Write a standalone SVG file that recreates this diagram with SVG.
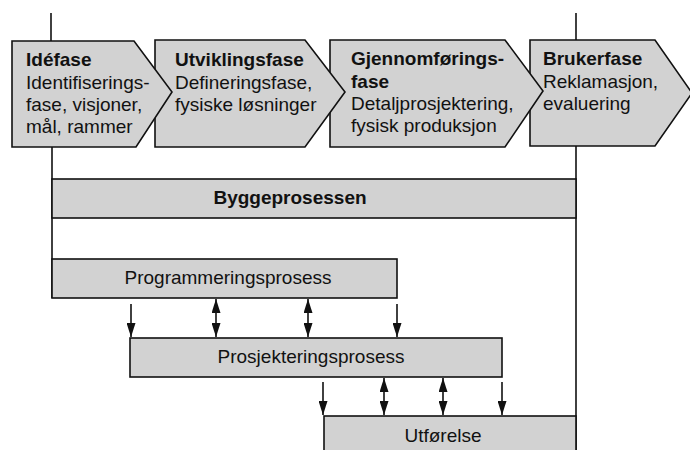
<svg xmlns="http://www.w3.org/2000/svg" width="690" height="450" viewBox="0 0 690 450">
<defs>
<style>
.box{fill:#d2d2d2;stroke:#111;stroke-width:1.6}
.ln{stroke:#111;stroke-width:1.6;fill:none}
.t{font-family:"Liberation Sans",Arial,sans-serif;font-size:19px;fill:#111}
.b{font-weight:bold}
</style>
<marker id="ah" viewBox="0 0 14 9" refX="14" refY="4.5" markerWidth="14" markerHeight="9" markerUnits="userSpaceOnUse" orient="auto-start-reverse">
<path d="M0,0 L14,4.5 L0,9 Z" fill="#111"/>
</marker>
</defs>
<rect width="690" height="450" fill="#fff"/>
<g id="connectors">
<line class="ln" x1="51" y1="13" x2="51" y2="41"/>
<line class="ln" x1="576" y1="13" x2="576" y2="41"/>
<line class="ln" x1="52" y1="147" x2="52" y2="298"/>
<line class="ln" x1="576" y1="146" x2="576" y2="450"/>
<line class="ln" x1="131" y1="304" x2="131" y2="337" marker-end="url(#ah)"/>
<line class="ln" x1="216" y1="299" x2="216" y2="337" marker-start="url(#ah)" marker-end="url(#ah)"/>
<line class="ln" x1="308" y1="299" x2="308" y2="337" marker-start="url(#ah)" marker-end="url(#ah)"/>
<line class="ln" x1="397" y1="304" x2="397" y2="337" marker-end="url(#ah)"/>
<line class="ln" x1="323" y1="382" x2="323" y2="415" marker-end="url(#ah)"/>
<line class="ln" x1="384" y1="378" x2="384" y2="415" marker-start="url(#ah)" marker-end="url(#ah)"/>
<line class="ln" x1="443" y1="378" x2="443" y2="415" marker-start="url(#ah)" marker-end="url(#ah)"/>
<line class="ln" x1="502" y1="382" x2="502" y2="415" marker-end="url(#ah)"/>
</g>
<g id="brukerfase">
<polygon class="box" points="530,40 655,40 692,93 655,146 530,146"/>
<text class="t" x="543" y="65"><tspan class="b">Brukerfase</tspan><tspan x="543" dy="23">Reklamasjon,</tspan><tspan x="543" dy="22">evaluering</tspan></text>
</g>
<g id="gjennomforingsfase">
<polygon class="box" points="330,40 505,40 543,91 505,147 330,147"/>
<text class="t" x="351" y="65"><tspan class="b">Gjennomførings-</tspan><tspan class="b" x="351" dy="23">fase</tspan><tspan x="351" dy="22">Detaljprosjektering,</tspan><tspan x="351" dy="22">fysisk produksjon</tspan></text>
</g>
<g id="utviklingsfase">
<polygon class="box" points="155,40 305,40 345,92 305,147 155,147"/>
<text class="t" x="175" y="66"><tspan class="b">Utviklingsfase</tspan><tspan x="175" dy="23">Defineringsfase,</tspan><tspan x="175" dy="22">fysiske løsninger</tspan></text>
</g>
<g id="idefase">
<polygon class="box" points="12,41 134,41 172,92 136,147 12,147"/>
<text class="t" x="26" y="66"><tspan class="b">Idéfase</tspan><tspan x="26" dy="23">Identifiserings-</tspan><tspan x="26" dy="22">fase, visjoner,</tspan><tspan x="26" dy="22">mål, rammer</tspan></text>
</g>
<g id="byggeprosessen">
<rect class="box" x="52" y="179" width="524" height="39"/>
<text class="t b" x="290" y="204" text-anchor="middle">Byggeprosessen</text>
</g>
<g id="programmeringsprosess">
<rect class="box" x="52" y="259" width="345" height="39"/>
<text class="t" x="228" y="284" text-anchor="middle">Programmeringsprosess</text>
</g>
<g id="prosjekteringsprosess">
<rect class="box" x="130" y="338" width="372" height="39"/>
<text class="t" x="311" y="363" text-anchor="middle">Prosjekteringsprosess</text>
</g>
<g id="utforelse">
<rect class="box" x="324" y="416" width="252" height="40"/>
<text class="t" x="443" y="442" text-anchor="middle">Utførelse</text>
</g>
</svg>
